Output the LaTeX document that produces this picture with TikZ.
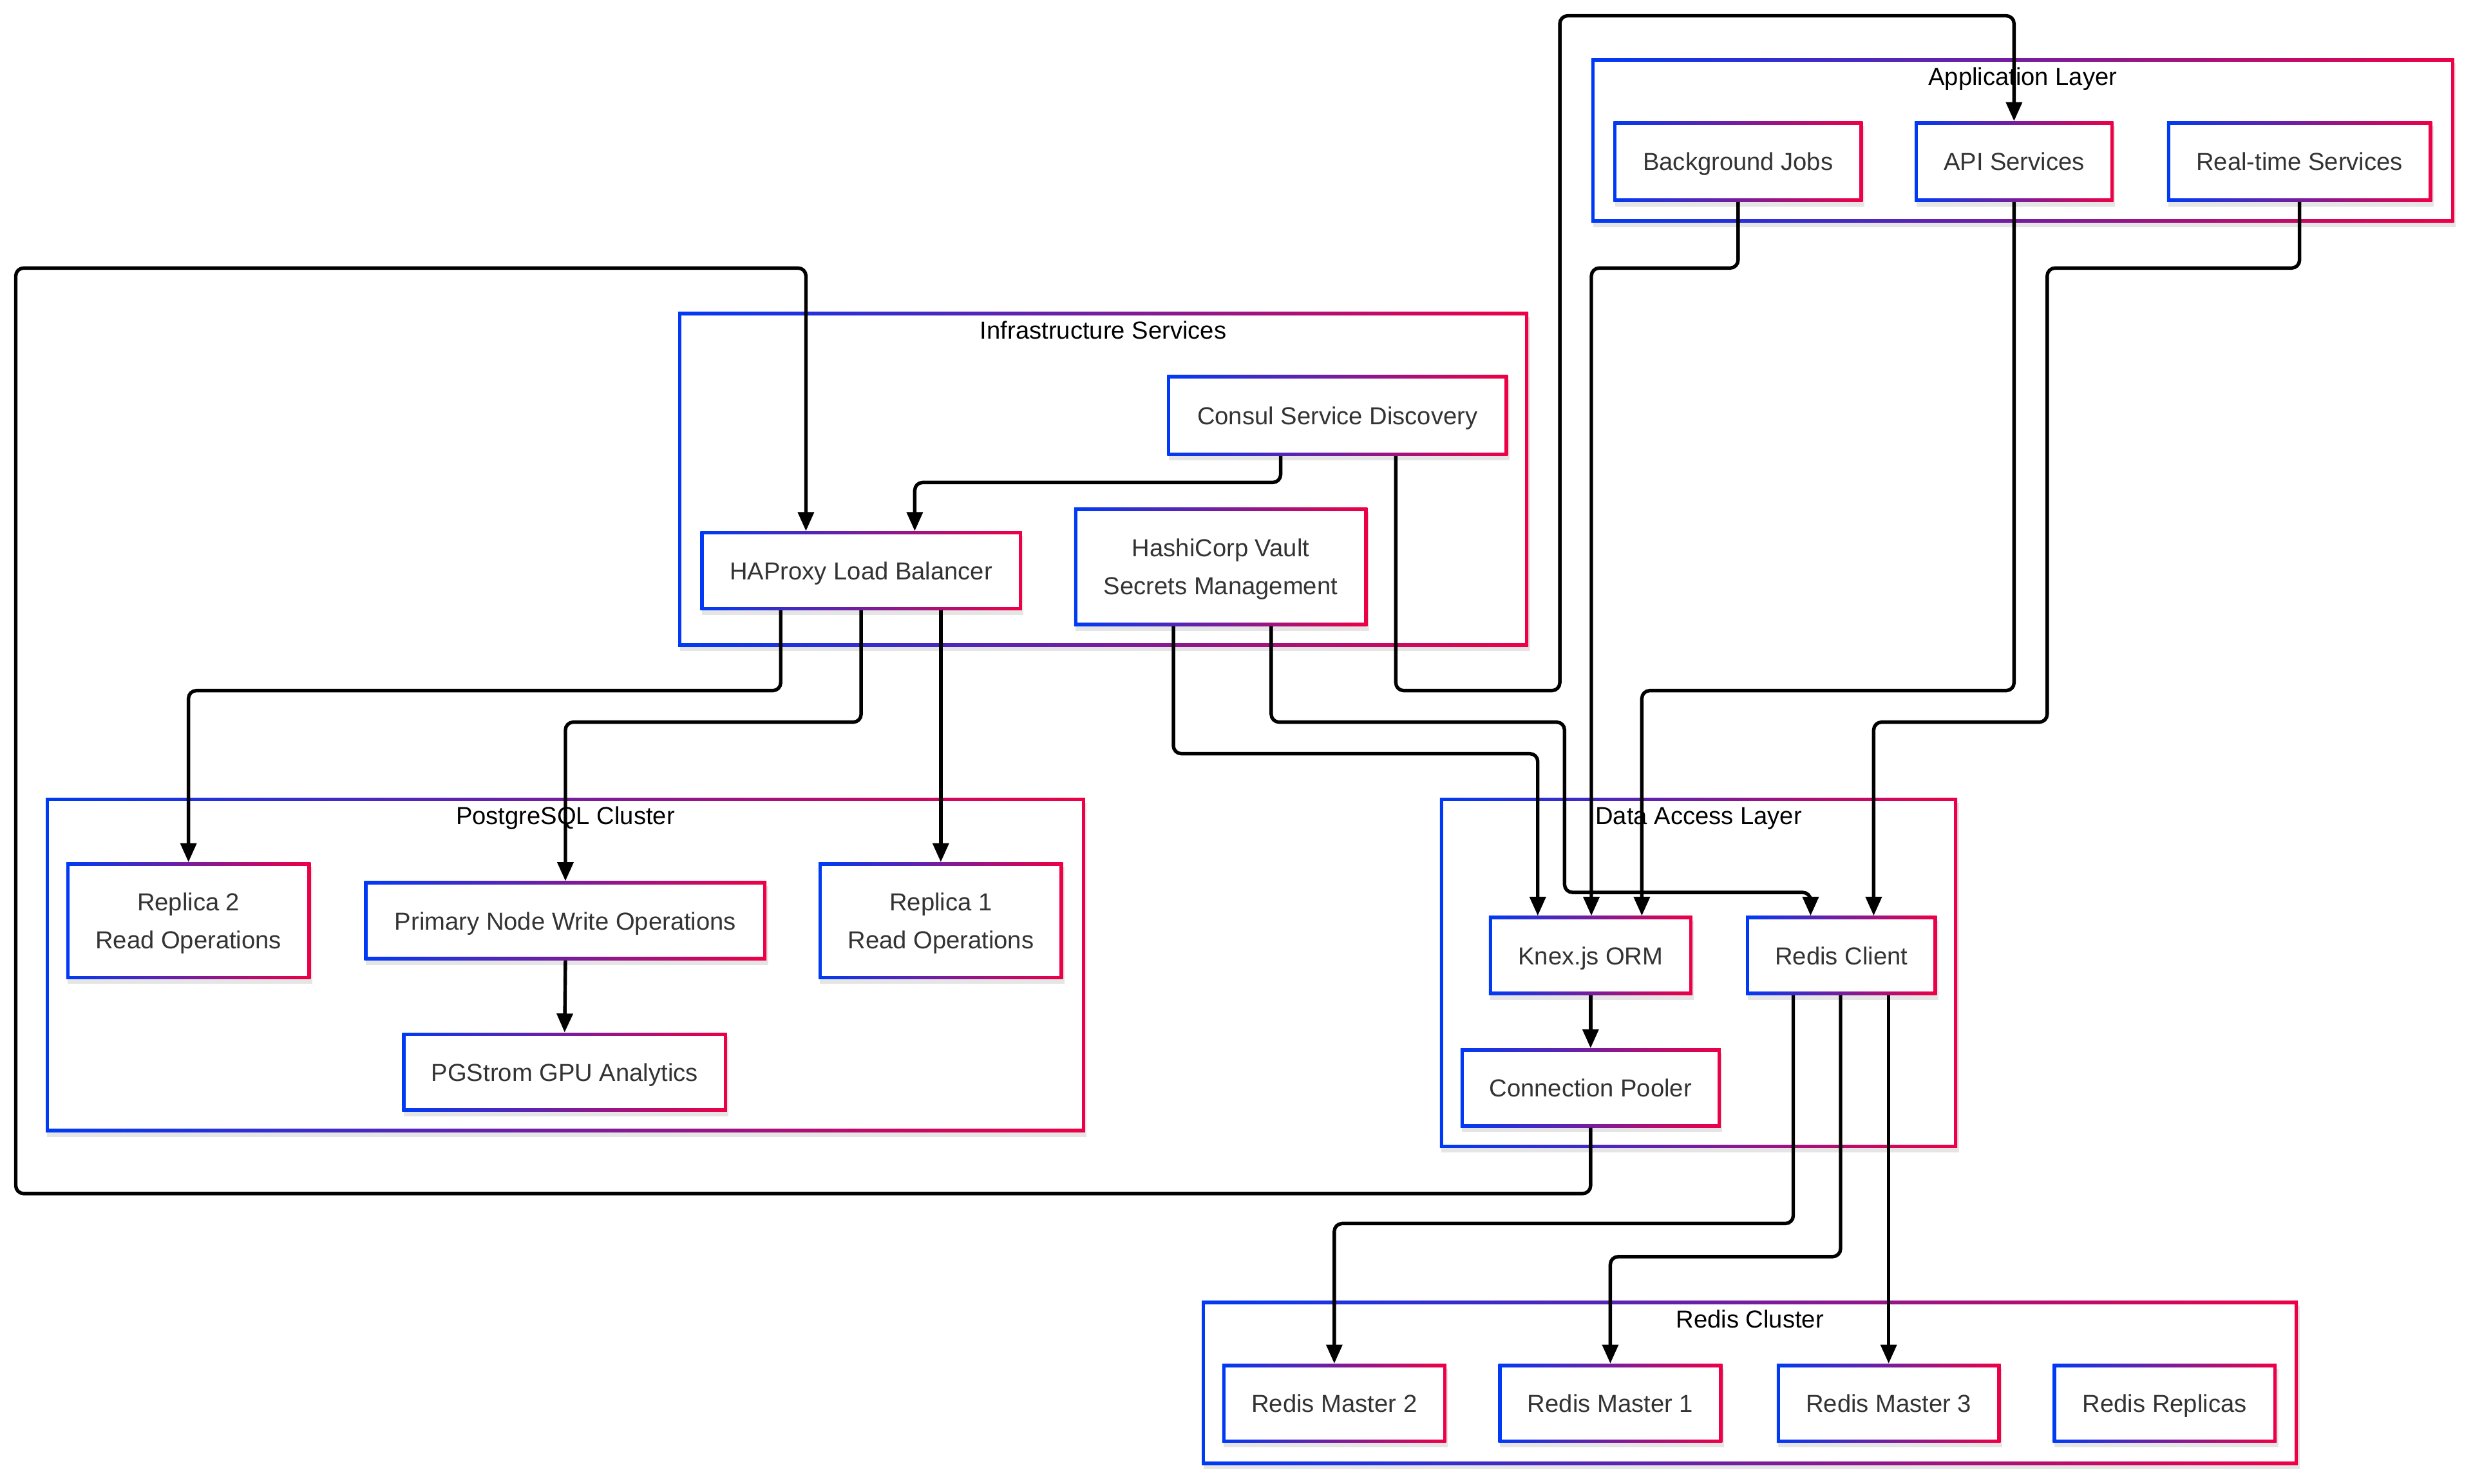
\documentclass[tikz,border=0pt]{standalone}
\usepackage{fontspec}
\setmainfont{Liberation Sans}
\usetikzlibrary{arrows.meta,shadows}
\definecolor{cblue}{RGB}{0,58,245}
\definecolor{cred}{RGB}{238,0,70}
\definecolor{ctext}{RGB}{51,51,51}
\tikzset{
  gframe/.style={rectangle, inner sep=0pt, fill=white,
    drop shadow={shadow xshift=1pt, shadow yshift=-3pt, opacity=0.10, fill=black},
    path picture={
      \shade[left color=cblue, right color=cred]
        (path picture bounding box.south west) rectangle (path picture bounding box.north east);
      \fill[white]
        ([shift={(2.1pt,2.1pt)}]path picture bounding box.south west) rectangle
        ([shift={(-2.1pt,-2.1pt)}]path picture bounding box.north east);
    }},
  box/.style={gframe, text=ctext, align=center, font=\fontsize{15.6}{24}\selectfont},
  onebox/.style={box, text height=11.4pt, text depth=0pt},
  cluster/.style={gframe},
  ctitle/.style={anchor=base, text=black, inner sep=0pt, font=\fontsize{15.6}{24}\selectfont},
  edge/.style={line width=2.2pt, draw=black, rounded corners=5pt, -{Triangle[length=12pt,width=10pt]}},
}
\newcommand{\toprule}{\rule{0pt}{14.4pt}}
\begin{document}
\begin{tikzpicture}[x=1pt,y=-1pt]
\useasboundingbox (0,0) rectangle (1568,941);
% clusters
\node[cluster, minimum width=547, minimum height=104] (app) at (1282.5,89) {};
\node[cluster, minimum width=539, minimum height=212] (infra) at (699.5,304) {};
\node[cluster, minimum width=659, minimum height=212] (pg) at (358.5,612) {};
\node[cluster, minimum width=328, minimum height=222] (dal) at (1077,617) {};
\node[cluster, minimum width=695, minimum height=104] (rc) at (1109.5,877) {};
\node[ctitle] (appt) at (1282.5,54) {Application Layer};
\node[ctitle] (infrat) at (699.5,215) {Infrastructure Services};
\node[ctitle] (pgt) at (358.5,523) {PostgreSQL Cluster};
\node[ctitle] (dalt) at (1077,523) {Data Access Layer};
\node[ctitle] (rct) at (1109.5,842) {Redis Cluster};
% nodes
\node[onebox, minimum width=158, minimum height=51] (bg) at (1102,102.5) {Background Jobs};
\node[onebox, minimum width=126, minimum height=51] (api) at (1277,102.5) {API Services};
\node[onebox, minimum width=168, minimum height=51] (rt) at (1458,102.5) {Real-time Services};
\node[onebox, minimum width=216, minimum height=51] (consul) at (848,263.5) {Consul Service Discovery};
\node[onebox, minimum width=204, minimum height=50] (haproxy) at (546,362) {HAProxy Load Balancer};
\node[box, minimum width=186, minimum height=75] (vault) at (774,359.5) {\toprule HashiCorp Vault\\Secrets Management};
\node[box, minimum width=155, minimum height=74] (rep2) at (119.5,584) {\toprule Replica 2\\Read Operations};
\node[onebox, minimum width=255, minimum height=50] (primary) at (358.5,584) {Primary Node Write Operations};
\node[box, minimum width=155, minimum height=74] (rep1) at (596.5,584) {\toprule Replica 1\\Read Operations};
\node[onebox, minimum width=206, minimum height=50] (pgstrom) at (358,680) {PGStrom GPU Analytics};
\node[onebox, minimum width=129, minimum height=50] (knex) at (1008.5,606) {Knex.js ORM};
\node[onebox, minimum width=121, minimum height=50] (redisc) at (1167.5,606) {Redis Client};
\node[onebox, minimum width=165, minimum height=50] (pooler) at (1008.5,690) {Connection Pooler};
\node[onebox, minimum width=142, minimum height=50] (m2) at (846,890) {Redis Master 2};
\node[onebox, minimum width=142, minimum height=50] (m1) at (1021,890) {Redis Master 1};
\node[onebox, minimum width=142, minimum height=50] (m3) at (1197.5,890) {Redis Master 3};
\node[onebox, minimum width=142, minimum height=50] (replicas) at (1372.5,890) {Redis Replicas};
% edges
\draw[edge] (885,0 |- consul.south) -- (885,438) -- (989,438) -- (989,10) -- (1277,10) -- (api.north);
\draw[edge] (pooler.south) -- (1008.5,757) -- (10,757) -- (10,170) -- (511,170) -- (511,0 |- haproxy.north);
\draw[edge] (812,0 |- consul.south) -- (812,306) -- (580,306) -- (580,0 |- haproxy.north);
\draw[edge] (495,0 |- haproxy.south) -- (495,438) -- (119.5,438) -- (rep2.north);
\draw[edge] (haproxy.south) -- (546,458) -- (358.5,458) -- (primary.north);
\draw[edge] (rep1.north |- haproxy.south) -- (rep1.north);
\draw[edge] (primary.south) -- (pgstrom.north);
\draw[edge] (744,0 |- vault.south) -- (744,478) -- (975,478) -- (975,0 |- knex.north);
\draw[edge] (806,0 |- vault.south) -- (806,458) -- (992,458) -- (992,566) -- (1148,566) -- (1148,0 |- redisc.north);
\draw[edge] (bg.south) -- (1102,170) -- (1009,170) -- (1009,0 |- knex.north);
\draw[edge] (api.south) -- (1277,438) -- (1041,438) -- (1041,0 |- knex.north);
\draw[edge] (rt.south) -- (1458,170) -- (1298,170) -- (1298,458) -- (1188,458) -- (1188,0 |- redisc.north);
\draw[edge] (knex.south) -- (pooler.north);
\draw[edge] (1137,0 |- redisc.south) -- (1137,776) -- (846,776) -- (m2.north);
\draw[edge] (1167,0 |- redisc.south) -- (1167,797) -- (1021,797) -- (m1.north);
\draw[edge] (m3.north |- redisc.south) -- (m3.north);
\end{tikzpicture}
\end{document}
